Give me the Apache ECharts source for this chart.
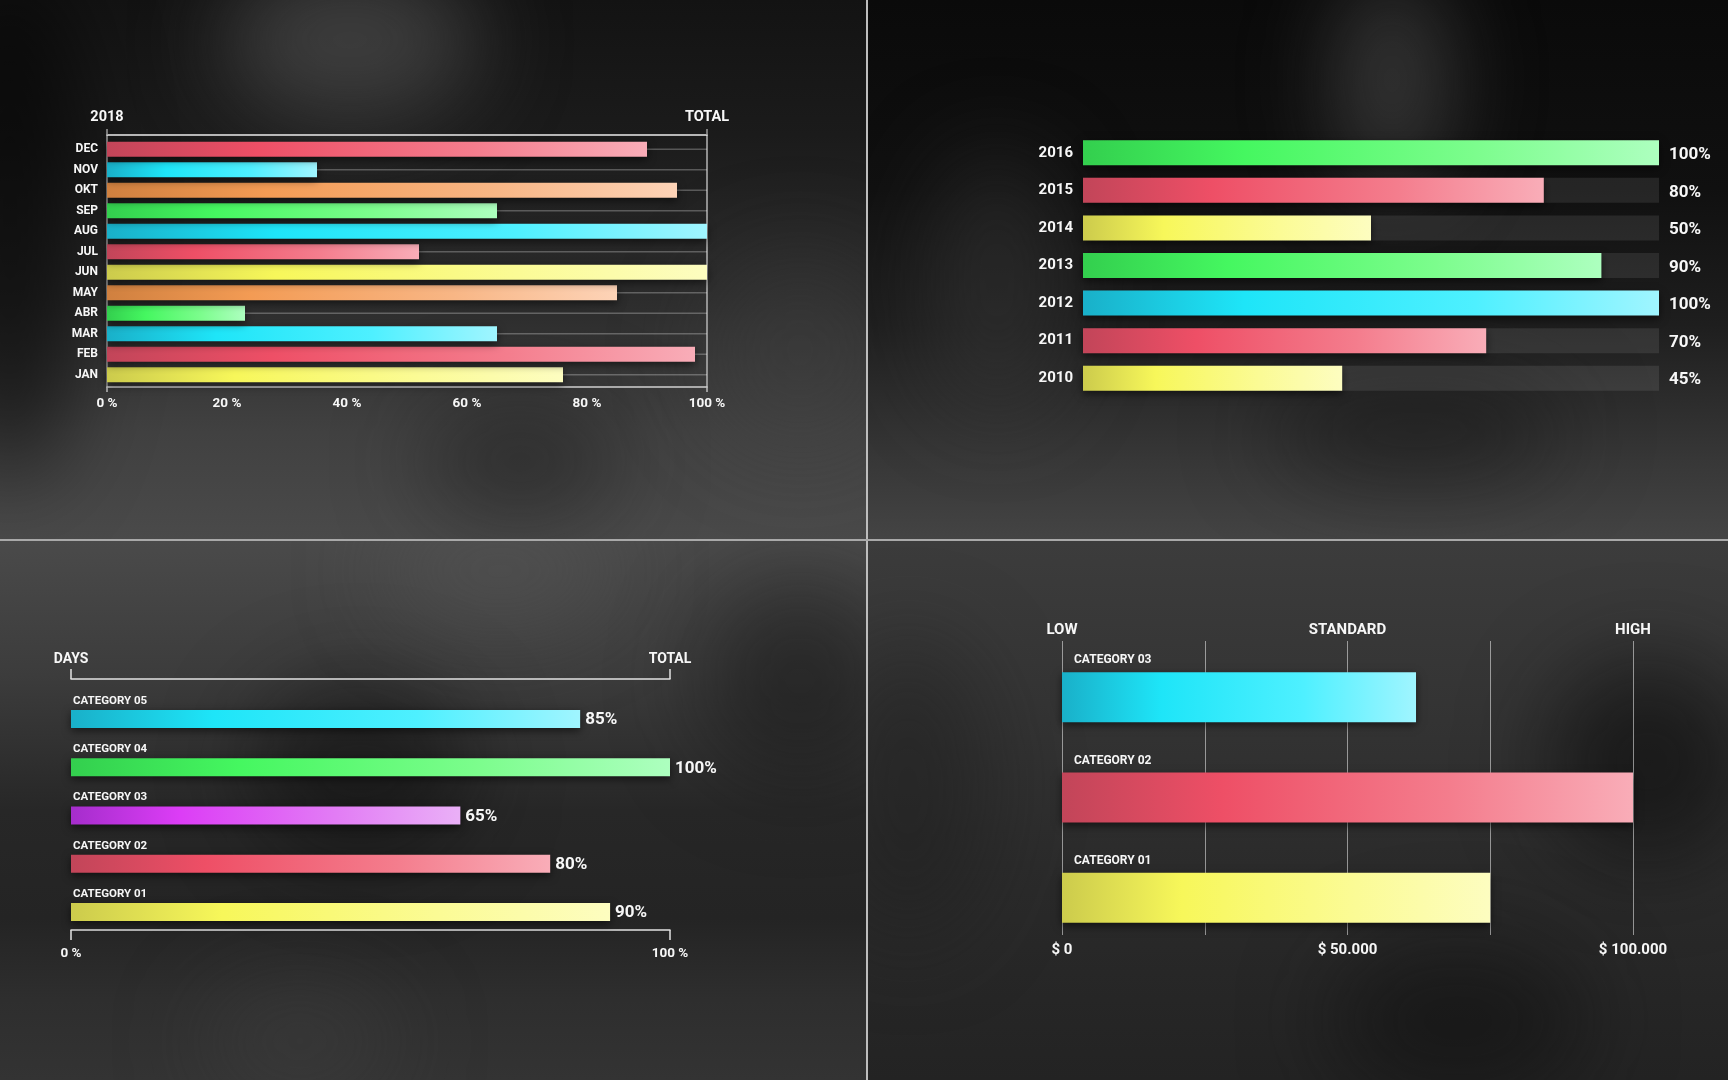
<!DOCTYPE html>
<html><head><meta charset="utf-8">
<script src="https://cdn.jsdelivr.net/npm/echarts@6/dist/echarts.min.js"></script>
<style>
html,body{margin:0;padding:0;width:1728px;height:1080px;overflow:hidden;background:#222;}
#bg{position:absolute;left:0;top:0;width:1728px;height:1080px;overflow:hidden;}
.q{position:absolute;overflow:hidden;}
.blob{position:absolute;border-radius:50%;filter:blur(45px);}
.div{position:absolute;background:#bdbdbd;}
#chart{position:absolute;left:0;top:0;width:1728px;height:1080px;}
#err{position:absolute;left:10px;top:560px;color:#ff0;font:12px monospace;white-space:pre;z-index:10;}
</style></head><body>
<div id="bg">
  <div class="q" style="left:0;top:0;width:866px;height:540px;background:linear-gradient(180deg,#131313 0%,#1b1b1b 25%,#2c2c2c 55%,#414141 80%,#4a4a4a 100%);">
    <div class="blob" style="left:220px;top:-40px;width:260px;height:160px;background:rgba(95,95,95,0.55);"></div>
    <div class="blob" style="left:-60px;top:-40px;width:140px;height:520px;background:rgba(0,0,0,0.6);"></div>
    <div class="blob" style="left:420px;top:400px;width:200px;height:120px;background:rgba(20,20,20,0.45);"></div>
    <div class="blob" style="left:700px;top:250px;width:200px;height:200px;background:rgba(70,70,70,0.35);"></div>
  </div>
  <div class="q" style="left:867px;top:0;width:861px;height:540px;background:linear-gradient(180deg,#0a0a0a 0%,#101010 35%,#1e1e1e 60%,#373737 85%,#444 100%);">
    <div class="blob" style="left:470px;top:-30px;width:110px;height:220px;background:rgba(85,85,85,0.6);"></div>
    <div class="blob" style="left:60px;top:150px;width:140px;height:260px;background:rgba(60,60,60,0.45);"></div>
    <div class="blob" style="left:400px;top:380px;width:300px;height:100px;background:rgba(15,15,15,0.5);"></div>
  </div>
  <div class="q" style="left:0;top:541px;width:866px;height:539px;background:linear-gradient(180deg,#4a4a4a 0%,#3c3c3c 25%,#272727 50%,#242424 70%,#2e2e2e 85%,#333 100%);">
    <div class="blob" style="left:250px;top:140px;width:220px;height:180px;background:rgba(10,10,10,0.5);"></div>
    <div class="blob" style="left:700px;top:40px;width:200px;height:200px;background:rgba(20,20,20,0.5);"></div>
    <div class="blob" style="left:380px;top:-30px;width:240px;height:120px;background:rgba(90,90,90,0.4);"></div>
    <div class="blob" style="left:200px;top:440px;width:200px;height:120px;background:rgba(70,70,70,0.35);"></div>
  </div>
  <div class="q" style="left:868px;top:541px;width:860px;height:539px;background:linear-gradient(180deg,#3c3c3c 0%,#343434 30%,#2b2b2b 60%,#232323 100%);">
    <div class="blob" style="left:680px;top:120px;width:200px;height:200px;background:rgba(10,10,10,0.6);"></div>
    <div class="blob" style="left:460px;top:400px;width:260px;height:160px;background:rgba(15,15,15,0.55);"></div>
    <div class="blob" style="left:-40px;top:100px;width:160px;height:300px;background:rgba(30,30,30,0.5);"></div>
  </div>
  <div class="div" style="left:866px;top:0;width:2px;height:1080px;"></div>
  <div class="div" style="left:0;top:539px;width:1728px;height:2px;background:#a9a9a9;"></div>
</div>
<div id="chart"></div>
<div id="err"></div>
<script>
// ---------- DATA ----------
const months = ['JAN','FEB','MAR','ABR','MAY','JUN','JUL','AUG','SEP','OKT','NOV','DEC'];
const monthValues = [76,98,65,23,85,100,52,100,65,95,35,90];
const monthColors = ['yellow','red','cyan','green','orange','yellow','red','cyan','green','orange','cyan','red'];
const pctAxisTitles = ['2018','TOTAL'];

const years = ['2010','2011','2012','2013','2014','2015','2016'];
const yearValues = [45,70,100,90,50,80,100];
const yearColors = ['yellow','red','cyan','green','yellow','red','green'];

const dayCats = ['CATEGORY 01','CATEGORY 02','CATEGORY 03','CATEGORY 04','CATEGORY 05'];
const dayValues = [90,80,65,100,85];
const dayColors = ['yellow','red','purple','green','cyan'];
const dayAxisTitles = ['DAYS','TOTAL'];

const moneyCats = ['CATEGORY 01','CATEGORY 02','CATEGORY 03'];
const moneyValues = [75000,100000,62000];
const moneyColors = ['yellow','red','cyan'];
const moneyLevels = ['LOW','STANDARD','HIGH'];
const moneyTicks = ['$ 0','$ 50.000','$ 100.000'];

// ---------- STYLE ----------
const palette = {
  red:    ['#c24559','#ee4f66','#f47d8d','#f9adb8'],
  cyan:   ['#19b0c9','#1ee5f8','#4ef0ff','#a0f5ff'],
  orange: ['#d0803f','#f39b54','#f8b685','#fdd3b7'],
  green:  ['#33cf4e','#45f760','#7cfd8d','#adffbf'],
  yellow: ['#cccb4c','#f7f75a','#fbfb95','#fdfdc0'],
  purple: ['#a52dcc','#dc3df6','#e27cf5','#eab0f7']
};
function grad(name){
  const c = palette[name];
  return new echarts.graphic.LinearGradient(0,0,1,0,[
    {offset:0,color:c[0]},{offset:0.28,color:c[1]},{offset:0.68,color:c[2]},{offset:1,color:c[3]}
  ]);
}
function items(values, colors){
  return values.map((v,i)=>({value:v, itemStyle:{color:grad(colors[i])}}));
}
const FONT = 'Roboto';
const TXT = '#f7f7f7';
const shadow = ()=>({shadowColor:'rgba(0,0,0,0.55)', shadowBlur:8, shadowOffsetY:3});
const hid = ()=>({show:false});
const line = (color,width)=>({show:true,onZero:false,lineStyle:{color:color,width:width}});
function hiddenValue(grid,min,max){
  return {type:'value',gridIndex:grid,min:min,max:max,axisLine:hid(),axisTick:hid(),axisLabel:hid(),splitLine:hid()};
}
function hiddenCat(grid,data){
  return {type:'category',gridIndex:grid,data:data,axisLine:hid(),axisTick:hid(),axisLabel:hid(),splitLine:hid()};
}
const lbl = (size,extra)=>Object.assign({color:TXT,fontFamily:FONT,fontWeight:'bold',fontSize:size},extra||{});
function dummy(xi,yi){
  return {type:'line',xAxisIndex:xi,yAxisIndex:yi,data:[],silent:true,showSymbol:false};
}

const chart = echarts.init(document.getElementById('chart'), null, {renderer:'canvas'});
const option = {
  backgroundColor:'transparent',
  animation:false,
  textStyle:{fontFamily:FONT,fontWeight:'bold',color:TXT},
  grid:[
    {left:107, top:139, width:600, height:246},   // 0 p1 bars
    {left:107, top:135, width:600, height:252},   // 1 p1 frame
    {left:1083, top:134, width:576, height:263},  // 2 p2 bars
    {left:71, top:695, width:599, height:241},    // 3 p3 bars
    {left:71, top:679, width:599, height:251},    // 4 p3 frame
    {left:1062, top:641, width:571, height:294},  // 5 p4 lines
    {left:1062, top:647, width:571, height:301}   // 6 p4 bars
  ],
  xAxis:[
    {type:'value',gridIndex:0,min:0,max:100,interval:20,position:'bottom',
     axisLine:hid(),axisTick:hid(),splitLine:hid(),
     axisLabel:lbl(13.5,{formatter:'{value} %',margin:12})},
    {type:'value',gridIndex:1,min:0,max:100,interval:100,position:'bottom',
     axisLine:line('#cfcfcf',1.5),
     axisTick:{show:true,length:5,lineStyle:{color:'#bdbdbd',width:1.5}},
     axisLabel:hid(),splitLine:hid()},
    {type:'value',gridIndex:1,min:0,max:100,interval:100,position:'top',
     axisLine:line('#ececec',1.5),
     axisTick:{show:true,length:6,lineStyle:{color:'#9a9a9a',width:1.5}},
     axisLabel:lbl(14.5,{margin:10,formatter:v=>pctAxisTitles[Math.round(v/100)]||''}),splitLine:hid()},
    hiddenValue(2,0,100),
    hiddenValue(3,0,100),
    {type:'value',gridIndex:4,min:0,max:100,interval:100,position:'bottom',
     axisLine:line('#e2e2e2',1.5),
     axisTick:{show:true,length:10,lineStyle:{color:'#e2e2e2',width:1.5}},
     axisLabel:lbl(13.5,{formatter:'{value} %',margin:17}),splitLine:hid()},
    {type:'value',gridIndex:4,min:0,max:100,interval:100,position:'top',
     axisLine:line('#e2e2e2',1.5),
     axisTick:{show:true,length:10,lineStyle:{color:'#e2e2e2',width:1.5}},
     axisLabel:lbl(14,{margin:13,formatter:v=>dayAxisTitles[Math.round(v/100)]||''}),splitLine:hid()},
    {type:'value',gridIndex:5,min:0,max:100000,interval:25000,position:'bottom',
     axisLine:hid(),axisTick:hid(),
     splitLine:{show:true,lineStyle:{color:'rgba(255,255,255,0.5)',width:1}},
     axisLabel:lbl(15,{margin:8,formatter:v=>(v%50000===0?(moneyTicks[v/50000]||''):'')})},
    {type:'value',gridIndex:5,min:0,max:100000,interval:25000,position:'top',
     axisLine:hid(),axisTick:hid(),splitLine:hid(),
     axisLabel:lbl(15,{margin:3,formatter:v=>(v%50000===0?(moneyLevels[v/50000]||''):'')})},
    hiddenValue(6,0,100000)
  ],
  yAxis:[
    {type:'category',gridIndex:0,data:months,axisLine:hid(),axisTick:hid(),splitLine:hid(),
     axisLabel:lbl(12,{margin:9})},
    hiddenCat(0,months),
    {type:'value',gridIndex:1,min:0,max:1,position:'left',axisLine:line('#9a9a9a',1.5),axisTick:hid(),axisLabel:hid(),splitLine:hid()},
    {type:'value',gridIndex:1,min:0,max:1,position:'right',axisLine:line('#b5b5b5',1.5),axisTick:hid(),axisLabel:hid(),splitLine:hid()},
    {type:'category',gridIndex:2,data:years,axisLine:hid(),axisTick:hid(),splitLine:hid(),
     axisLabel:lbl(15,{margin:10})},
    hiddenCat(3,dayCats),
    hiddenCat(3,dayCats),
    hiddenValue(5,0,1),
    hiddenCat(6,moneyCats),
    hiddenCat(6,moneyCats),
    hiddenValue(4,0,1)
  ],
  series:[
    {type:'bar',name:'track2018',xAxisIndex:0,yAxisIndex:1,barWidth:1.5,silent:true,z:1,
     data:months.map(()=>100),itemStyle:{color:'rgba(255,255,255,0.26)'}},
    {type:'bar',name:'2018',xAxisIndex:0,yAxisIndex:0,barWidth:15,z:3,
     data:items(monthValues,monthColors),itemStyle:shadow()},
    {type:'bar',name:'trackYears',xAxisIndex:3,yAxisIndex:4,barWidth:25,silent:true,z:1,
     data:years.map(()=>100),itemStyle:{color:'rgba(255,255,255,0.09)'},
     label:lbl(17,{show:true,position:'right',distance:10,offset:[0,2],formatter:p=>yearValues[p.dataIndex]+'%'})},
    {type:'bar',name:'years',xAxisIndex:3,yAxisIndex:4,barWidth:25,barGap:'-100%',z:3,
     data:items(yearValues,yearColors),itemStyle:shadow()},
    {type:'bar',name:'days',xAxisIndex:4,yAxisIndex:5,barWidth:18,z:3,
     data:items(dayValues,dayColors),itemStyle:shadow(),
     label:lbl(17,{show:true,position:'right',distance:5,offset:[0,1],formatter:'{c}%'})},
    {type:'bar',name:'dayNames',xAxisIndex:4,yAxisIndex:6,barWidth:18,silent:true,z:2,
     data:dayCats.map(()=>100),itemStyle:{color:'rgba(0,0,0,0)'},
     label:lbl(11.5,{show:true,position:[2,-3],verticalAlign:'bottom',align:'left',formatter:'{b}'})},
    {type:'bar',name:'money',xAxisIndex:9,yAxisIndex:8,barWidth:50,z:3,
     data:items(moneyValues,moneyColors),itemStyle:shadow()},
    {type:'bar',name:'moneyNames',xAxisIndex:9,yAxisIndex:9,barWidth:50,silent:true,z:2,
     data:moneyCats.map(()=>100000),itemStyle:{color:'rgba(0,0,0,0)'},
     label:lbl(12,{show:true,position:[12,-6],verticalAlign:'bottom',align:'left',formatter:'{b}'})},
    dummy(1,2), dummy(2,3), dummy(5,10), dummy(6,10), dummy(7,7), dummy(8,7)
  ]
};
try { chart.setOption(option); } catch(e){ document.getElementById('err').textContent = String(e && e.stack || e).slice(0,1500); }
</script>
</body></html>
